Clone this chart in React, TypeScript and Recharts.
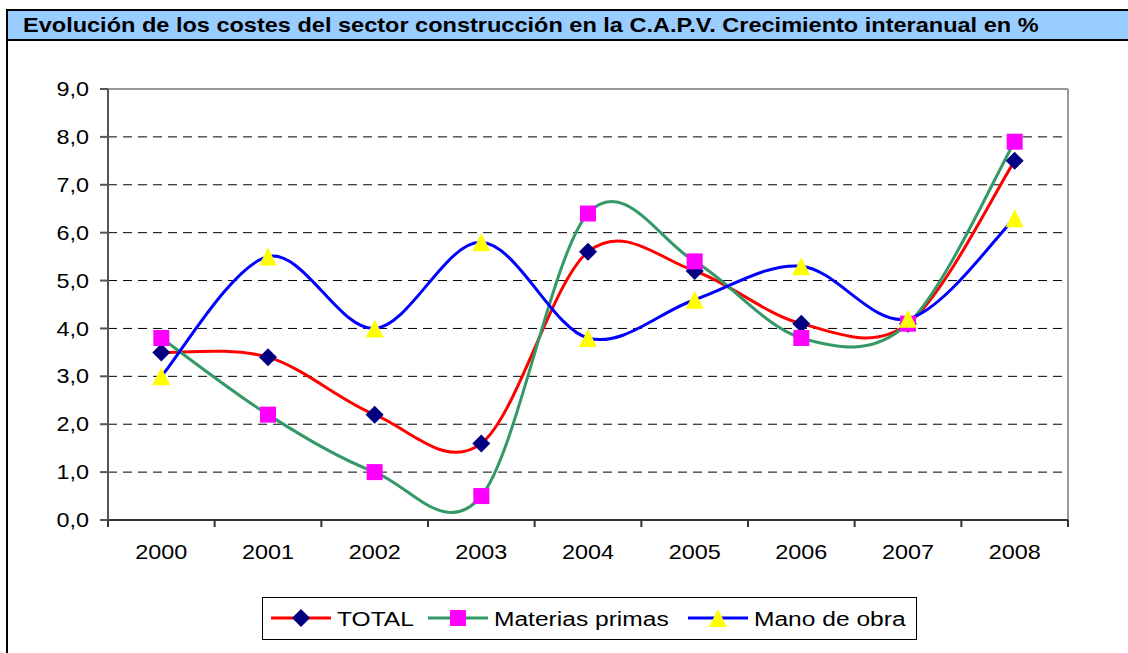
import React from 'react';
import { LineChart, Line, XAxis, YAxis, CartesianGrid, ReferenceLine } from 'recharts';

const years = ['2000', '2001', '2002', '2003', '2004', '2005', '2006', '2007', '2008'];
const total = [3.5, 3.4, 2.2, 1.6, 5.6, 5.2, 4.1, 4.1, 7.5];
const materiasPrimas = [3.8, 2.2, 1.0, 0.5, 6.4, 5.4, 3.8, 4.1, 7.9];
const manoDeObra = [3.0, 5.5, 4.0, 5.8, 3.8, 4.6, 5.3, 4.2, 6.3];
const yTicks = [0, 1, 2, 3, 4, 5, 6, 7, 8, 9];

const FONT = '"Liberation Sans", Arial, sans-serif';
const STRETCH = 1.17; // the original text is a bit wider than plain Arial
const PLOT_W = 960;
const BAND = PLOT_W / years.length;

const data = years.map((y, i) => ({
  idx: i,
  year: y,
  total: total[i],
  materias: materiasPrimas[i],
  mano: manoDeObra[i],
}));

// boundary ticks, like Excel's category axis
const xBoundaries = [...years.map((_, i) => i - 0.5), years.length - 0.5];

// Excel style smoothed line (cubic bezier through every point, 1/6 tangents)
const excelSmooth = (context: any) => {
  let pts: number[][] = [];
  return {
    areaStart() {},
    areaEnd() {},
    lineStart() {
      pts = [];
    },
    point(x: number, y: number) {
      pts.push([+x, +y]);
    },
    lineEnd() {
      if (!pts.length) return;
      context.moveTo(pts[0][0], pts[0][1]);
      for (let i = 0; i < pts.length - 1; i++) {
        const p0 = pts[Math.max(i - 1, 0)];
        const p1 = pts[i];
        const p2 = pts[i + 1];
        const p3 = pts[Math.min(i + 2, pts.length - 1)];
        context.bezierCurveTo(
          p1[0] + (p2[0] - p0[0]) / 6,
          p1[1] + (p2[1] - p0[1]) / 6,
          p2[0] - (p3[0] - p1[0]) / 6,
          p2[1] - (p3[1] - p1[1]) / 6,
          p2[0],
          p2[1]
        );
      }
    },
  };
};

const Diamond = ({ cx, cy }: any) => (
  <path d={`M${cx},${cy - 9}L${cx + 9},${cy}L${cx},${cy + 9}L${cx - 9},${cy}Z`} fill="#000080" />
);
const Square = ({ cx, cy }: any) => <rect x={cx - 8} y={cy - 8} width={16} height={16} fill="#FF00FF" />;
const Triangle = ({ cx, cy }: any) => (
  <path d={`M${cx},${cy - 9}L${cx + 9},${cy + 9}L${cx - 9},${cy + 9}Z`} fill="#FFFF00" />
);

const series = [
  { key: 'total', name: 'TOTAL', color: '#FF0000', Marker: Diamond },
  { key: 'materias', name: 'Materias primas', color: '#339966', Marker: Square },
  { key: 'mano', name: 'Mano de obra', color: '#0000FF', Marker: Triangle },
];

const fmt = (v: number) => v.toFixed(1).replace('.', ',');

const YTick = (props: any) => {
  const { x, y, payload } = props;
  return (
    <text
      transform={`translate(${x},${y}) scale(${STRETCH},1)`}
      textAnchor="end"
      dy="0.355em"
      fontSize={20}
      fontFamily={FONT}
      fill="#000"
    >
      {fmt(payload.value)}
    </text>
  );
};

const XTick = (props: any) => {
  const { x, y, payload } = props;
  const i = Math.round(payload.value + 0.5);
  if (i >= years.length) return <g />;
  return (
    <text
      transform={`translate(${x + BAND / 2},${y}) scale(${STRETCH},1)`}
      textAnchor="middle"
      dy="0.71em"
      fontSize={20}
      fontFamily={FONT}
      fill="#000"
    >
      {years[i]}
    </text>
  );
};

function ChartLegend() {
  const offsets = [8, 165, 425];
  return (
    <div
      style={{
        position: 'absolute',
        left: 262,
        top: 597,
        width: 655,
        height: 43,
        border: '1px solid #000',
        boxSizing: 'border-box',
        background: '#fff',
      }}
    >
      <svg width={653} height={41} style={{ display: 'block' }}>
        {series.map((s, i) => {
          const x0 = offsets[i];
          const M = s.Marker;
          return (
            <g key={s.key}>
              <line x1={x0} x2={x0 + 60} y1={20} y2={20} stroke={s.color} strokeWidth={3} />
              <M cx={x0 + 30} cy={20} />
              <text
                transform={`translate(${x0 + 66},28) scale(${STRETCH},1)`}
                fontSize={21}
                fontFamily={FONT}
                fill="#000"
              >
                {s.name}
              </text>
            </g>
          );
        })}
      </svg>
    </div>
  );
}

export default function App() {
  return (
    <div style={{ position: 'absolute', left: 0, top: 0, width: 1128, height: 653, background: '#fff', overflow: 'hidden' }}>
      {/* outer frame, left edge */}
      <div style={{ position: 'absolute', left: 6, top: 9, width: 2, height: 653, background: '#000' }} />
      {/* title bar */}
      <div
        style={{
          position: 'absolute',
          left: 6,
          top: 9,
          width: 1140,
          height: 32,
          boxSizing: 'border-box',
          border: '2px solid #000',
          background: '#99CCFF',
          display: 'flex',
          alignItems: 'center',
        }}
      >
        <span
          style={{
            marginLeft: 15,
            fontFamily: FONT,
            fontWeight: 'bold',
            fontSize: 21,
            color: '#000',
            whiteSpace: 'nowrap',
            display: 'inline-block',
            transform: 'scaleX(1.12)',
            transformOrigin: 'left center',
          }}
        >
          Evolución de los costes del sector construcción en la C.A.P.V. Crecimiento interanual en %
        </span>
      </div>

      <div style={{ position: 'absolute', left: 0, top: 0 }}>
        <LineChart width={1128} height={653} data={data} margin={{ top: 89, right: 60, left: 48, bottom: 93 }}>
          <CartesianGrid horizontal vertical={false} stroke="#000" strokeDasharray="9 6" />
          <XAxis
            type="number"
            dataKey="idx"
            domain={[-0.5, years.length - 0.5]}
            ticks={xBoundaries}
            interval={0}
            height={40}
            tickSize={7}
            tickMargin={18}
            tick={XTick}
            stroke="#333"
            strokeWidth={2}
          />
          <YAxis
            domain={[0, 9]}
            ticks={yTicks}
            interval={0}
            width={60}
            tickSize={8}
            tickMargin={11}
            tick={YTick}
            stroke="#555"
            strokeWidth={2}
          />
          <ReferenceLine y={9} stroke="#999" strokeWidth={2} />
          <ReferenceLine x={years.length - 0.5} stroke="#999" strokeWidth={2} />
          {series.map((s) => (
            <Line
              key={s.key}
              type={excelSmooth as any}
              dataKey={s.key}
              name={s.name}
              stroke={s.color}
              strokeWidth={3}
              dot={(p: any) => <s.Marker key={`${s.key}-${p.index}`} cx={p.cx} cy={p.cy} />}
              activeDot={false}
              isAnimationActive={false}
            />
          ))}
        </LineChart>
      </div>

      <ChartLegend />
    </div>
  );
}
